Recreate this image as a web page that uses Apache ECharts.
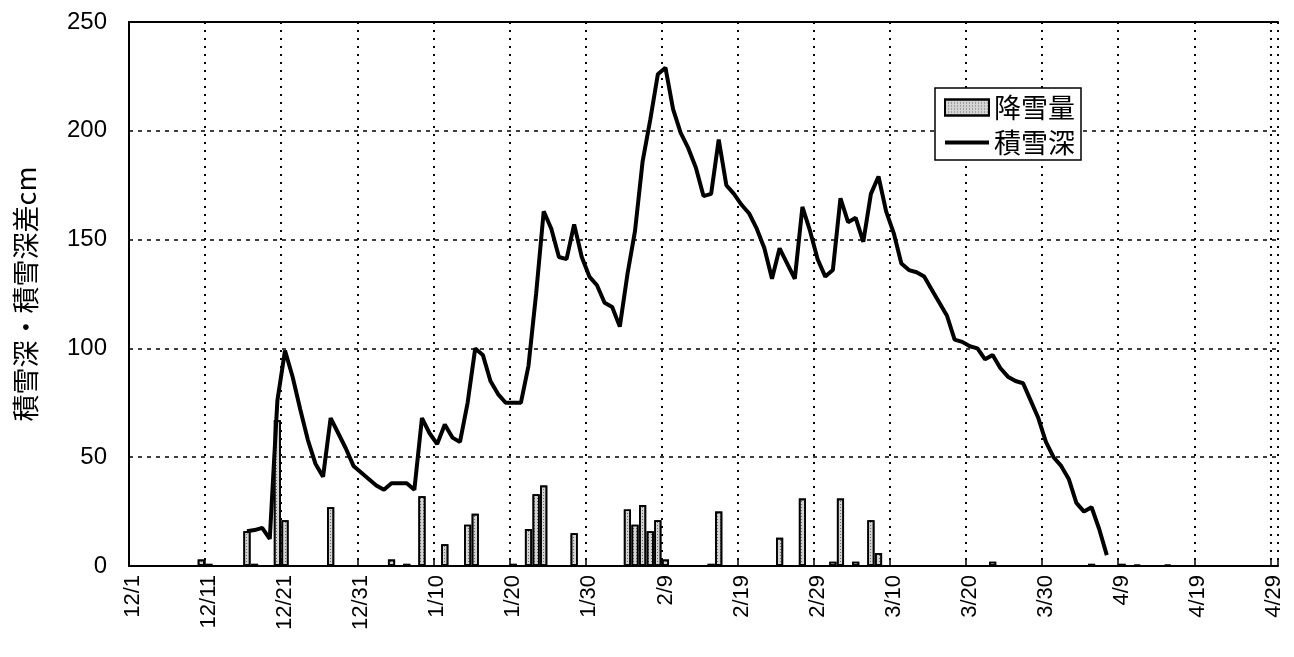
<!DOCTYPE html>
<html><head><meta charset="utf-8">
<script src="https://cdn.jsdelivr.net/npm/echarts@6/dist/echarts.min.js"></script>
<style>html,body{margin:0;padding:0;background:#fff}#c{width:1294px;height:657px}</style>
</head><body><div id="c"></div>
<script>
// Daily categories 12/1 .. 4/29 (leap year)
const monthLengths = [[12,31],[1,31],[2,29],[3,31],[4,29]];
const categories = [];
monthLengths.forEach(([m,n]) => { for (let d = 1; d <= n; d++) categories.push(m + '/' + d); });

// 降雪量 (daily snowfall, cm)
const snowfall = [
  0,0,0,0,0,0,0,0,0,3,
  1,0,0,0,0,16,1,0,0,67,
  21,0,0,0,0,0,27,0,0,0,
  0,0,0,0,3,0,1,0,32,0,
  0,10,0,0,19,24,0,0,0,0,
  1,0,17,33,37,0,0,0,15,0,
  0,0,0,0,0,26,19,28,16,21,
  3,0,0,0,0,0,1,25,0,0,
  0,0,0,0,0,13,0,0,31,0,
  0,0,2,31,0,2,0,21,6,0,
  0,0,0,0,0,0,0,0,0,0,
  0,0,0,2,0,0,0,0,0,0,
  0,0,0,0,0,0,1,0,0,0,
  1,0,0.5,0,0,0,0.5,0,0,0,
  0,0,0,0,0,0,0,0,0,0,
  0
];

// 積雪深 (snow depth, cm)
const snowDepth = [
  null,null,null,null,null,null,null,null,null,null,
  null,null,null,null,null,16,16.5,17.5,12.5,76,
  99,87,72,58,47,41,68,61,54,46,
  43,40,37,35,38,38,38,35,68,61,
  56,65,59,57,75,100,97,85,79,75,
  75,75,92,125,163,155,142,141,157,142,
  133,129,121,119,110,134,154,186,205,226,
  229,210,199,192,183,170,171,196,175,171,
  166,162,155,146,132,146,139,132,165,154,
  141,133,136,169,158,160,149,171,179,163,
  153,139,136,135,133,127,121,115,104,103,
  101,100,95,97,91,87,85,84,76,68,
  57,50,46,40,29,25,27,17,5,null,
  null,null,null,null,null,null,null,null,null,null,
  null,null,null,null,null,null,null,null,null,null,
  null
];

const yTicks = { min: 0, max: 250, step: 50 };
const FONT = 'Arial, "Liberation Sans", "Noto Sans CJK JP", sans-serif';
const JP = '"Noto Sans CJK JP", sans-serif';
const every10 = (i) => i % 10 === 0;

const chart = echarts.init(document.getElementById('c'), null, { renderer: 'canvas' });
chart.setOption({
  animation: false,
  backgroundColor: '#fff',
  textStyle: { fontFamily: FONT, color: '#000' },
  grid: { left: 129, top: 22, width: 1149, height: 544 },
  legend: {
    data: [
      { name: '降雪量', icon: 'rect' },
      { name: '積雪深', itemStyle: { opacity: 0 }, lineStyle: { color: '#000', width: 4 } }
    ],
    orient: 'vertical',
    left: 935, top: 88,
    itemWidth: 44, itemHeight: 16, itemGap: 8,
    padding: [6, 6, 4, 8],
    borderColor: '#000', borderWidth: 1.5, backgroundColor: '#fff',
    textStyle: { fontSize: 27, color: '#000', fontFamily: JP }
  },
  xAxis: [{
    type: 'category', data: categories, boundaryGap: true,
    axisLine: { lineStyle: { color: '#000', width: 2 } },
    axisTick: { show: true, inside: true, length: 6, interval: (i) => every10(i), lineStyle: { color: '#000', width: 1.5 } },
    axisLabel: { interval: (i) => every10(i), rotate: 90, margin: 9, fontSize: 22, color: '#000', fontFamily: FONT },
    splitLine: { show: true, interval: (i) => every10(i), lineStyle: { color: '#000', type: [2, 6], width: 2 } }
  }, {
    type: 'category', data: categories, position: 'top', boundaryGap: true,
    axisLine: { show: true, lineStyle: { color: '#000', width: 2 } },
    axisTick: { show: false }, axisLabel: { show: false }, splitLine: { show: false }
  }],
  yAxis: {
    type: 'value', min: yTicks.min, max: yTicks.max, interval: yTicks.step,
    name: '積雪深・積雪深差cm', nameLocation: 'middle', nameRotate: 90, nameGap: 90,
    nameTextStyle: { fontSize: 27, color: '#000', fontFamily: JP },
    axisLine: { show: true, lineStyle: { color: '#000', width: 2 } },
    axisTick: { show: false },
    axisLabel: { fontSize: 24, color: '#000', margin: 22, fontFamily: FONT },
    splitLine: { show: true, lineStyle: { color: '#000', type: [4, 5], width: 1.5 } }
  },
  series: [{
    name: '降雪量', type: 'bar', data: snowfall, barCategoryGap: '6%',
    itemStyle: {
      color: '#d4d4d4', borderColor: '#000', borderWidth: 1.7,
      decal: { symbol: 'rect', symbolSize: 1, dashArrayX: [1, 2], dashArrayY: [1, 2], color: 'rgba(0,0,0,0.5)' }
    }
  }, {
    name: '積雪深', type: 'line', data: snowDepth, symbol: 'none', connectNulls: false,
    lineStyle: { color: '#000', width: 4 }, itemStyle: { color: '#000' }, z: 5
  }]
});
</script>
</body></html>
